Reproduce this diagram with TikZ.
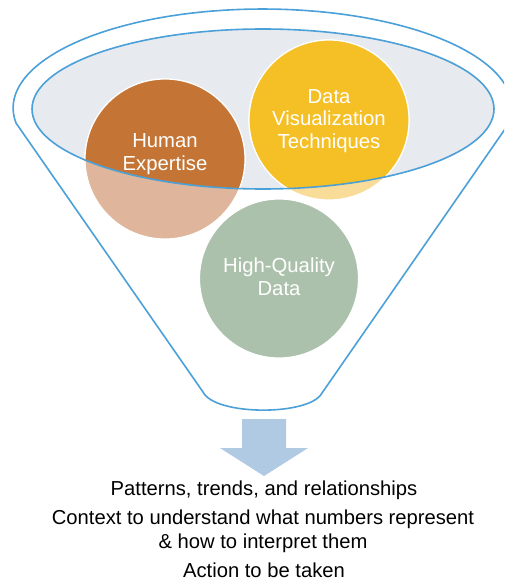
\documentclass[tikz,border=0pt]{standalone}
\usepackage{fontspec}
\setmainfont{Liberation Sans}
\definecolor{funblue}{HTML}{4CA0D8}
\definecolor{bowlfill}{HTML}{E7EAEF}
\definecolor{expdark}{HTML}{C47535}
\definecolor{explight}{HTML}{DFB59B}
\definecolor{vizdark}{HTML}{F5C026}
\definecolor{vizlight}{HTML}{F8DC97}
\definecolor{datagreen}{HTML}{ABC1AB}
\definecolor{arrowblue}{HTML}{B1CAE3}
\begin{document}
\begin{tikzpicture}[x=1pt,y=1pt,
  funnelline/.style={draw=funblue, line width=1.6pt, line join=round},
  bubble/.style={circle, minimum size=160pt, inner sep=0pt, draw=white, line width=1.2pt},
  bubbletext/.style={text=white, font=\fontsize{20.3}{22.5}\selectfont, align=center, anchor=base, inner sep=0pt},
  outtext/.style={text=black, font=\fontsize{20.2}{24}\selectfont, align=center, anchor=base, inner sep=0pt}]
\useasboundingbox (0,0) rectangle (504,-583);
\clip (0,0) rectangle (504,-583);

% funnel corners
\coordinate (fl) at (16,-123);
\coordinate (fr) at (509.2,-123);
\coordinate (bl) at (203,-392);
\coordinate (br) at (322,-393);

% funnel outline
\draw[funnelline] (fl) arc[start angle=188.7, end angle=-8.7, x radius=249.5, y radius=99]
  -- (br) .. controls (310,-416) and (215,-416) .. (bl) -- cycle;

% inner ellipse fill
\fill[bowlfill] (263,-109) ellipse [x radius=231, y radius=80];

% bubbles, light parts
\node[bubble, fill=explight] (exp) at (165,-159) {};
\node[bubble, fill=vizlight] (viz) at (329,-120) {};
\node[bubble, fill=datagreen, minimum size=159pt] (hq) at (279,-278.5) {};

% bubbles, dark parts inside the bowl
\begin{scope}
  \clip (263,-109) ellipse [x radius=231, y radius=80];
  \node[bubble, fill=expdark] (expin) at (165,-159) {};
  \node[bubble, fill=vizdark] (vizin) at (329,-120) {};
\end{scope}

% inner ellipse border
\draw[funnelline] (263,-109) ellipse [x radius=231, y radius=80];

% bubble texts (base = baseline of last line)
\node[bubbletext] (exptext) at (165,-170) {Human\\Expertise};
\node[bubbletext] (viztext) at (329,-148) {Data\\Visualization\\Techniques};
\node[bubbletext] (hqtext) at (279,-295) {High-Quality\\Data};

% block arrow
\fill[arrowblue] (242,-419) -- (286,-419) -- (286,-448) -- (308,-448) -- (264,-476)
  -- (220,-448) -- (242,-448) -- cycle;

% outcome texts
\node[outtext] (out1) at (264,-495) {Patterns, trends, and relationships};
\node[outtext] (out2) at (263,-548) {Context to understand what numbers represent\\\& how to interpret them};
\node[outtext] (out3) at (264,-577) {Action to be taken};
\end{tikzpicture}
\end{document}
